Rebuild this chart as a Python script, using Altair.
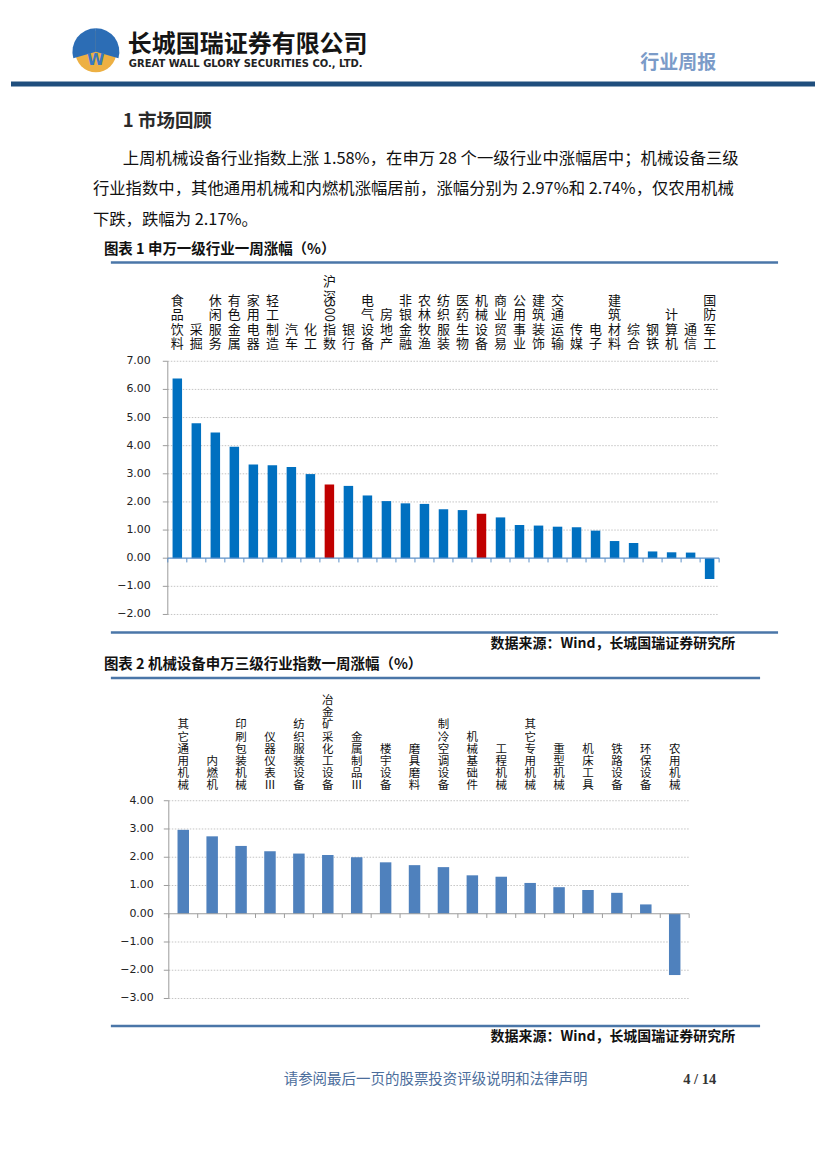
import altair as alt
import pandas as pd

# ---------------- data ----------------
cats1 = ["食品饮料", "采掘", "休闲服务", "有色金属", "家用电器", "轻工制造", "汽车", "化工",
         "沪深300指数", "银行", "电气设备", "房地产", "非银金融", "农林牧渔", "纺织服装", "医药生物",
         "机械设备", "商业贸易", "公用事业", "建筑装饰", "交通运输", "传媒", "电子", "建筑材料",
         "综合", "钢铁", "计算机", "通信", "国防军工"]
vals1 = [6.39, 4.80, 4.47, 3.96, 3.33, 3.30, 3.24, 2.99, 2.62, 2.57, 2.23, 2.03, 1.95, 1.93,
         1.74, 1.71, 1.58, 1.45, 1.18, 1.16, 1.12, 1.10, 0.98, 0.61, 0.54, 0.24, 0.21, 0.20, -0.74]
highlight1 = ["沪深300指数", "机械设备"]
ticks1 = [7, 6, 5, 4, 3, 2, 1, 0, -1, -2]

cats2 = ["其它通用机械", "内燃机", "印刷包装机械", "仪器仪表Ⅲ", "纺织服装设备", "冶金矿采化工设备",
         "金属制品Ⅲ", "楼宇设备", "磨具磨料", "制冷空调设备", "机械基础件", "工程机械", "其它专用机械",
         "重型机械", "机床工具", "铁路设备", "环保设备", "农用机械"]
vals2 = [2.97, 2.74, 2.40, 2.21, 2.13, 2.08, 2.00, 1.82, 1.72, 1.65, 1.36, 1.31, 1.09, 0.94,
         0.84, 0.74, 0.33, -2.17]
ticks2 = [4, 3, 2, 1, 0, -1, -2, -3]

company = "长城国瑞证券有限公司"
company_en = "GREAT WALL GLORY SECURITIES CO., LTD."
doc_type = "行业周报"
section = "1 市场回顾"
para = ["上周机械设备行业指数上涨 1.58%，在申万 28 个一级行业中涨幅居中；机械设备三级",
        "行业指数中，其他通用机械和内燃机涨幅居前，涨幅分别为 2.97%和 2.74%，仅农用机械",
        "下跌，跌幅为 2.17%。"]
title1 = "图表 1 申万一级行业一周涨幅（%）"
title2 = "图表 2 机械设备申万三级行业指数一周涨幅（%）"
source = "数据来源：Wind，长城国瑞证券研究所"
footer = "请参阅最后一页的股票投资评级说明和法律声明"
page_no = "4 / 14"

# ---------------- helpers ----------------
M = 8
CJK = "Noto Sans CJK SC"
SPLIT = 655  # page y where the second panel starts


def one():
    return alt.Data(values=[{"k": 1}])


class Frame:
    def __init__(self, top):
        self.top = top

    def X(self, v):
        return v - M

    def Y(self, v):
        return v - self.top

    def txt(self, s, x, y, size, color="#000000", weight="normal", align="left", font=CJK,
            baseline="middle", **kw):
        return alt.Chart(one()).mark_text(
            text=s, fontSize=size, font=font, fontWeight=weight, align=align,
            baseline=baseline, color=color, **kw
        ).encode(x=alt.value(self.X(x)), y=alt.value(self.Y(y)))

    def hline(self, x1, x2, y, color, width):
        return alt.Chart(one()).mark_rule(color=color, strokeWidth=width).encode(
            x=alt.value(self.X(x1)), x2=alt.value(self.X(x2)), y=alt.value(self.Y(y)))


def tokens(name):
    # vertical label tokens from top to bottom; digit runs stay together (drawn rotated)
    out = []
    i = 0
    while i < len(name):
        if name[i].isdigit():
            j = i
            while j < len(name) and name[j].isdigit():
                j += 1
            out.append(name[i:j])
            i = j
        else:
            out.append(name[i])
            i += 1
    return out


def label_rows(cats, lab_bottom_px, fs, lh, ytop, ybot, dmin, dmax):
    ppu = (ybot - ytop) / (dmax - dmin)           # pixels per data unit
    center0 = lab_bottom_px - 0.47 * fs             # centre of bottom row, page px
    recs = []
    for c in cats:
        toks = tokens(c)
        pos = 0.0
        for t in reversed(toks):
            h = 1.3 if t.isdigit() else 1.0
            mid = pos + (h - 1.0) / 2.0 + (0.15 if t.isdigit() else 0.0)
            ypx = center0 - mid * lh
            recs.append({"cat": c, "ch": t, "yv": dmax + (ytop - ypx) / ppu,
                         "ang": 90 if t.isdigit() else 0})
            pos += h
    return pd.DataFrame(recs)


def panel(F, cats, vals, ticks, hl, colors, x0, x1, ytop, ybot, dmin, dmax, lab_x,
          lab_bottom, lab_fs, lab_lh, bar_w, zero_color, tick_len):
    df = pd.DataFrame({"cat": cats, "val": vals,
                       "grp": ["hl" if c in hl else "base" for c in cats]})
    ldf = label_rows(cats, lab_bottom, lab_fs, lab_lh, ytop, ybot, dmin, dmax)
    tdf = pd.DataFrame({"t": ticks})
    xs = alt.Scale(domain=cats, range=[F.X(x0), F.X(x1)], paddingInner=0, paddingOuter=0)
    ys = alt.Scale(domain=[dmin, dmax], range=[F.Y(ybot), F.Y(ytop)], nice=False, zero=False)
    Xc = alt.X("cat:N", scale=xs, axis=None, sort=None)
    axis_col = "#9C9C9C"
    L = []
    L.append(alt.Chart(tdf).transform_filter("datum.t != 0").mark_rule(
        color="#C4C4C4", strokeDash=[1.5, 1.5], strokeWidth=1).encode(
        x=alt.value(F.X(x0)), x2=alt.value(F.X(x1)), y=alt.Y("t:Q", scale=ys, axis=None)))
    L.append(alt.Chart(tdf).mark_rule(color=axis_col, strokeWidth=1).encode(
        x=alt.value(F.X(x0) - 5), x2=alt.value(F.X(x0)), y=alt.Y("t:Q", scale=ys, axis=None)))
    L.append(alt.Chart(tdf).transform_aggregate(tmax="max(t)", tmin="min(t)").mark_rule(
        color=axis_col, strokeWidth=1).encode(
        x=alt.value(F.X(x0)), y=alt.Y("tmax:Q", scale=ys, axis=None), y2="tmin:Q"))
    L.append(alt.Chart(tdf).transform_calculate(lab="format(datum.t, '.2f')").mark_text(
        align="right", baseline="middle", font="DejaVu Sans", fontSize=11, color="#222222").encode(
        x=alt.value(F.X(lab_x)), y=alt.Y("t:Q", scale=ys, axis=None), text="lab:N"))
    L.append(alt.Chart(df).mark_bar(width=bar_w).encode(
        x=Xc, y=alt.Y("val:Q", scale=ys, axis=None),
        color=alt.Color("grp:N", scale=alt.Scale(domain=["base", "hl"], range=colors), legend=None)))
    zdf = alt.Data(values=[{"z": 0, "zt": -tick_len}])
    L.append(alt.Chart(zdf).mark_rule(color=zero_color, strokeWidth=1.2).encode(
        x=alt.value(F.X(x0)), x2=alt.value(F.X(x1)), y=alt.Y("z:Q", scale=ys, axis=None)))
    L.append(alt.Chart(df).transform_calculate(z="0", zt=str(-tick_len)).mark_rule(
        color=zero_color, strokeWidth=1).encode(
        x=alt.X("cat:N", scale=xs, axis=None, sort=None, bandPosition=0),
        y=alt.Y("z:Q", scale=ys, axis=None), y2="zt:Q"))
    L.append(alt.Chart(zdf).mark_rule(color=zero_color, strokeWidth=1).encode(
        x=alt.value(F.X(x1)), y=alt.Y("z:Q", scale=ys, axis=None), y2="zt:Q"))
    L.append(alt.Chart(ldf).mark_text(
        fontSize=lab_fs, font=CJK, baseline="middle", align="center", color="#111111").encode(
        x=Xc, y=alt.Y("yv:Q", scale=ys, axis=None), text="ch:N",
        angle=alt.Angle("ang:Q", scale=None)))
    return L


# ---------------- top panel ----------------
A = Frame(M)
top = []
top.append(alt.Chart(one()).mark_point(shape="circle", size=1700, filled=True, opacity=1,
                                       color="#EDB043").encode(x=alt.value(A.X(95)), y=alt.value(A.Y(51))))
top.append(alt.Chart(one()).mark_arc(radius=23.5, theta=0, theta2=1.85, color="#2C6DB5").encode(
    x=alt.value(A.X(95)), y=alt.value(A.Y(51))))
top.append(alt.Chart(one()).mark_arc(radius=23.5, theta=4.43, theta2=6.2832, color="#2C6DB5").encode(
    x=alt.value(A.X(95)), y=alt.value(A.Y(51))))
top.append(A.txt("W", 95, 59, 16, color="#3A78C0", weight="bold", align="center", font="DejaVu Sans"))
top.append(A.txt(company, 127, 44, 24, color="#151515", weight="bold"))
top.append(A.txt(company_en, 128, 63, 10, color="#222222", weight="bold", font="DejaVu Sans"))
top.append(A.txt(doc_type, 640, 62, 19, color="#7B9BC8", weight="bold"))
top.append(A.hline(10, 815, 83.5, "#1F4E7D", 5))
top.append(A.txt(section, 122, 120, 18.5, color="#2B2B2B", weight="bold"))
top.append(A.txt(para[0], 122, 158, 16.4, color="#111111"))
top.append(A.txt(para[1], 92, 189, 16.4, color="#111111"))
top.append(A.txt(para[2], 92, 220, 16.4, color="#111111"))
top.append(A.txt(title1, 103, 250, 14.5, color="#111111", weight="bold"))
top.append(A.hline(110, 778, 262, "#4A76A8", 2.5))
top.append(A.hline(110, 778, 632.5, "#4A76A8", 2.5))
top.append(A.txt(source, 735, 644, 14, color="#111111", weight="bold", align="right"))
top += panel(A, cats1, vals1, ticks1, highlight1, ["#0070C0", "#C00000"],
             x0=167, x1=719, ytop=361, ybot=614.5, dmin=-2, dmax=7, lab_x=150,
             lab_bottom=350, lab_fs=13, lab_lh=14.4, bar_w=9.5, zero_color="#5A8FC8",
             tick_len=0.15)

# ---------------- bottom panel ----------------
B = Frame(SPLIT)
bot = []
bot.append(B.txt(title2, 103, 665, 14.5, color="#111111", weight="bold"))
bot.append(B.hline(110, 760, 678, "#4A76A8", 2.5))
bot.append(B.hline(110, 760, 1026.5, "#4A76A8", 2.5))
bot.append(B.txt(source, 735, 1038, 14, color="#111111", weight="bold", align="right"))
bot.append(B.txt(footer, 283, 1081, 14.5, color="#4C6E9C"))
bot.append(B.txt(page_no, 683, 1081, 14.5, color="#333333", weight="bold", font="Liberation Serif"))
bot += panel(B, cats2, vals2, ticks2, [], ["#4F81BD", "#4F81BD"],
             x0=168, x1=689, ytop=801, ybot=999, dmin=-3, dmax=4, lab_x=153,
             lab_bottom=792, lab_fs=11.5, lab_lh=12.2, bar_w=11.5, zero_color="#9C9C9C",
             tick_len=0.15)

top_chart = alt.layer(*top).properties(width=811, height=SPLIT - M)
bot_chart = alt.layer(*bot).properties(width=811, height=1161 - SPLIT)

chart = alt.vconcat(top_chart, bot_chart, spacing=0).resolve_scale(
    color="independent"
).properties(padding=0).configure(background="white").configure_view(strokeWidth=0)

chart.save("out.html", embed_options={"renderer": "svg", "actions": False})
